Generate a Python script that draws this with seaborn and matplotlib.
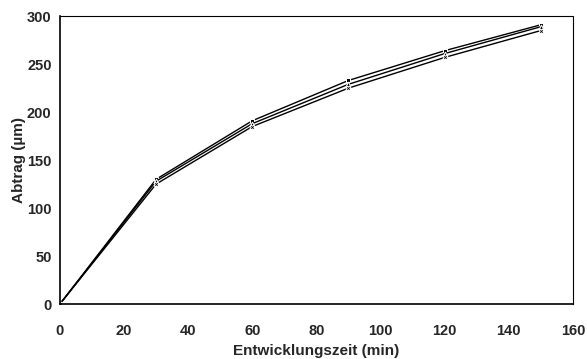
import matplotlib
matplotlib.use("Agg")
import matplotlib.pyplot as plt
import numpy as np
import pandas as pd
import seaborn as sns

# development time (min) and removal (µm) for three runs
zeit = [0, 30, 60, 90, 120, 150]
abtrag_a = [0, 130, 191, 233, 264, 291]
abtrag_b = [0, 128, 188, 229, 261, 289]
abtrag_c = [0, 125, 185, 225, 257, 285]

df = pd.DataFrame({
    "zeit": zeit * 3,
    "abtrag": abtrag_a + abtrag_b + abtrag_c,
    "serie": ["a"] * 6 + ["b"] * 6 + ["c"] * 6,
})

sns.set_style("white")
plt.rcParams["font.family"] = ["Liberation Sans", "DejaVu Sans"]

fig = plt.figure(figsize=(5.87, 3.59), dpi=100)
ax = fig.add_axes([0.102, 0.153, 0.874, 0.802])

sns.lineplot(
    data=df,
    x="zeit",
    y="abtrag",
    hue="serie",
    style="serie",
    palette=["black", "black", "black"],
    markers=["s", "^", "X"],
    dashes=False,
    markersize=3.5,
    linewidth=1.0,
    ax=ax,
    legend=False,
)

ax.set_xlim(0, 160)
ax.set_ylim(0, 300)
ax.set_xticks(np.arange(0, 161, 20))
ax.set_yticks(np.arange(0, 301, 50))
ax.tick_params(axis="x", direction="inout", length=7, width=1, labelsize=10.5, pad=11)
ax.tick_params(axis="y", direction="out", length=4, width=1, labelsize=10.5, pad=2)
for lab in ax.get_xticklabels() + ax.get_yticklabels():
    lab.set_fontweight("bold")

for side in ["left", "bottom"]:
    ax.spines[side].set_color("black")
    ax.spines[side].set_linewidth(1.2)
for side in ["top", "right"]:
    ax.spines[side].set_color("black")
    ax.spines[side].set_linewidth(0.8)
    ax.spines[side].set_linestyle((0, (1, 1)))

ax.set_xlabel("Entwicklungszeit (min)", fontsize=11, fontweight="bold", labelpad=4)
ax.set_ylabel("Abtrag (µm)", fontsize=11, fontweight="bold")
ax.yaxis.set_label_coords(-0.066, 0.5)

fig.savefig("out.png", dpi=100)
